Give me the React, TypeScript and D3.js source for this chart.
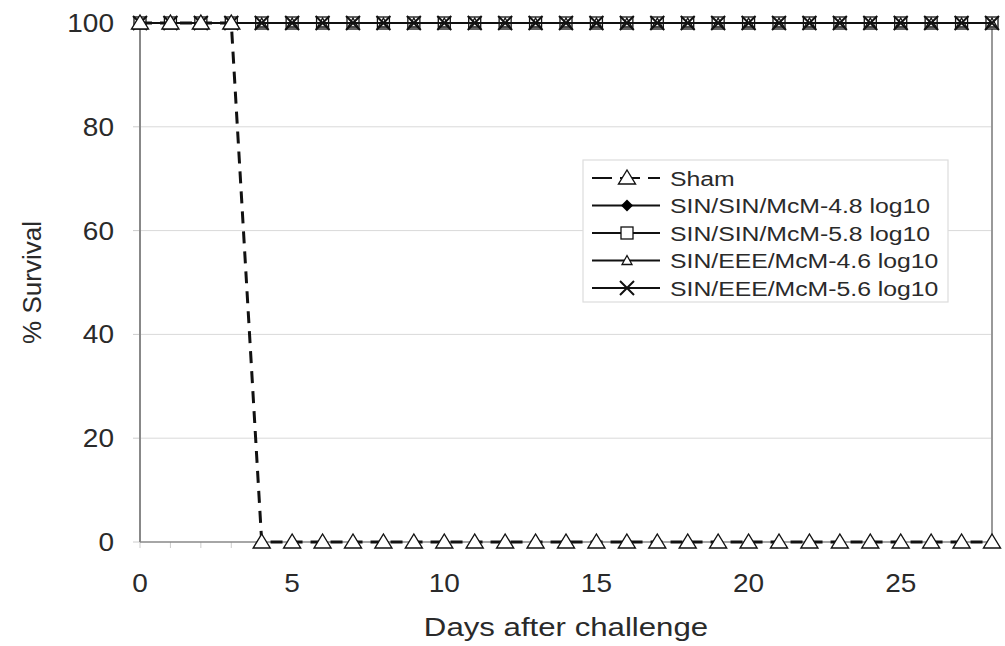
import { useEffect, useRef } from 'react'
import * as d3 from 'd3'

const days = [0, 1, 2, 3, 4, 5, 6, 7, 8, 9, 10, 11, 12, 13, 14, 15, 16, 17, 18, 19, 20, 21, 22, 23, 24, 25, 26, 27, 28]
const sham = [100, 100, 100, 100, 0, 0, 0, 0, 0, 0, 0, 0, 0, 0, 0, 0, 0, 0, 0, 0, 0, 0, 0, 0, 0, 0, 0, 0, 0]
const sinSin48 = [100, 100, 100, 100, 100, 100, 100, 100, 100, 100, 100, 100, 100, 100, 100, 100, 100, 100, 100, 100, 100, 100, 100, 100, 100, 100, 100, 100, 100]
const sinSin58 = [100, 100, 100, 100, 100, 100, 100, 100, 100, 100, 100, 100, 100, 100, 100, 100, 100, 100, 100, 100, 100, 100, 100, 100, 100, 100, 100, 100, 100]
const sinEee46 = [100, 100, 100, 100, 100, 100, 100, 100, 100, 100, 100, 100, 100, 100, 100, 100, 100, 100, 100, 100, 100, 100, 100, 100, 100, 100, 100, 100, 100]
const sinEee56 = [100, 100, 100, 100, 100, 100, 100, 100, 100, 100, 100, 100, 100, 100, 100, 100, 100, 100, 100, 100, 100, 100, 100, 100, 100, 100, 100, 100, 100]
const xTicks = [0, 5, 10, 15, 20, 25]
const yTicks = [0, 20, 40, 60, 80, 100]

type Marker = 'triangle' | 'diamond' | 'square' | 'smallTriangle' | 'cross'

const series: { name: string; values: number[]; marker: Marker; dashed: boolean }[] = [
  { name: 'SIN/SIN/McM-4.8 log10', values: sinSin48, marker: 'diamond', dashed: false },
  { name: 'SIN/SIN/McM-5.8 log10', values: sinSin58, marker: 'square', dashed: false },
  { name: 'SIN/EEE/McM-4.6 log10', values: sinEee46, marker: 'smallTriangle', dashed: false },
  { name: 'SIN/EEE/McM-5.6 log10', values: sinEee56, marker: 'cross', dashed: false },
  { name: 'Sham', values: sham, marker: 'triangle', dashed: true },
]
const legendOrder = ['Sham', 'SIN/SIN/McM-4.8 log10', 'SIN/SIN/McM-5.8 log10', 'SIN/EEE/McM-4.6 log10', 'SIN/EEE/McM-5.6 log10']

function drawMarker(g: d3.Selection<SVGGElement, unknown, null, undefined>, kind: Marker, x: number, y: number) {
  if (kind === 'triangle') {
    g.append('path')
      .attr('d', `M${x},${y - 8}L${x + 8.5},${y + 6}L${x - 8.5},${y + 6}Z`)
      .attr('fill', '#fff').attr('stroke', '#111').attr('stroke-width', 1.4)
  } else if (kind === 'smallTriangle') {
    g.append('path')
      .attr('d', `M${x},${y - 5}L${x + 5},${y + 4}L${x - 5},${y + 4}Z`)
      .attr('fill', '#fff').attr('stroke', '#111').attr('stroke-width', 1.3)
  } else if (kind === 'diamond') {
    g.append('path')
      .attr('d', `M${x},${y - 6}L${x + 6},${y}L${x},${y + 6}L${x - 6},${y}Z`)
      .attr('fill', '#000')
  } else if (kind === 'square') {
    g.append('rect')
      .attr('x', x - 6).attr('y', y - 6).attr('width', 12).attr('height', 12)
      .attr('fill', '#fff').attr('stroke', '#111').attr('stroke-width', 1.3)
  } else {
    g.append('path')
      .attr('d', `M${x - 7},${y - 7}L${x + 7},${y + 7}M${x + 7},${y - 7}L${x - 7},${y + 7}`)
      .attr('stroke', '#111').attr('stroke-width', 2)
  }
}

export default function App() {
  const svgRef = useRef<SVGSVGElement>(null)

  useEffect(() => {
    if (!svgRef.current) return
    const svg = d3.select(svgRef.current)
    svg.selectAll('*').remove()

    const font = '"Liberation Sans", Arial, sans-serif'
    const x = d3.scaleLinear().domain([0, 28]).range([140, 992])
    const y = d3.scaleLinear().domain([0, 100]).range([542, 23])

    // text stretched a little wider, as in the source image
    const label = (
      parent: d3.Selection<SVGGElement, unknown, null, undefined>,
      tx: number, ty: number, txt: string, size: number, anchor: string, sx: number
    ) =>
      parent.append('text')
        .attr('transform', `translate(${tx},${ty}) scale(${sx},1)`)
        .attr('text-anchor', anchor)
        .attr('font-family', font).attr('font-size', size).attr('fill', '#2a2a2a')
        .text(txt)

    const g = svg.append('g')

    // gridlines
    g.selectAll('.grid')
      .data(yTicks.filter(t => t > 0 && t < 100))
      .enter()
      .append('line')
      .attr('x1', x(0)).attr('x2', x(28))
      .attr('y1', d => y(d)).attr('y2', d => y(d))
      .attr('stroke', '#d9d9d9').attr('stroke-width', 1)

    // y tick marks + labels
    yTicks.forEach(t => {
      g.append('line')
        .attr('x1', x(0) - 7).attr('x2', x(0))
        .attr('y1', y(t)).attr('y2', y(t))
        .attr('stroke', '#ccc')
      label(g, 114, y(t) + 9, String(t), 25, 'end', 1.12)
    })

    // x minor ticks
    days.forEach(d => {
      g.append('line')
        .attr('x1', x(d)).attr('x2', x(d))
        .attr('y1', y(0)).attr('y2', y(0) + 6)
        .attr('stroke', '#ccc')
    })
    xTicks.forEach(t => label(g, x(t), 592, String(t), 25, 'middle', 1.12))

    // axes frame
    g.append('line').attr('x1', x(0)).attr('x2', x(0)).attr('y1', y(100)).attr('y2', y(0))
      .attr('stroke', '#888').attr('stroke-width', 2)
    g.append('line').attr('x1', x(28)).attr('x2', x(28)).attr('y1', y(100)).attr('y2', y(0))
      .attr('stroke', '#999').attr('stroke-width', 2)
    g.append('line').attr('x1', x(0)).attr('x2', x(28)).attr('y1', y(0)).attr('y2', y(0))
      .attr('stroke', '#888').attr('stroke-width', 1.5)

    // axis titles
    label(g, 566, 636, 'Days after challenge', 26, 'middle', 1.2)
    g.append('text')
      .attr('transform', `translate(41,${(y(0) + y(100)) / 2}) rotate(-90)`)
      .attr('text-anchor', 'middle')
      .attr('font-family', font).attr('font-size', 26).attr('fill', '#2a2a2a')
      .text('% Survival')

    // series
    const line = d3.line<number>().x((_, i) => x(days[i])).y(v => y(v))
    series.forEach(s => {
      g.append('path')
        .attr('d', line(s.values))
        .attr('fill', 'none')
        .attr('stroke', '#111')
        .attr('stroke-width', s.dashed ? 3 : 2)
        .attr('stroke-dasharray', s.dashed ? '12,8' : null)
      const mg = g.append('g')
      s.values.forEach((v, i) => drawMarker(mg, s.marker, x(days[i]), y(v)))
    })

    // legend
    const lg = svg.append('g').attr('transform', 'translate(583,160)')
    lg.append('rect')
      .attr('x', 0).attr('y', 0).attr('width', 365).attr('height', 142)
      .attr('fill', '#fff').attr('stroke', '#ddd').attr('stroke-width', 1.2)
    legendOrder.forEach((name, i) => {
      const s = series.find(d => d.name === name)!
      const ly = 18 + i * 27.5
      lg.append('line')
        .attr('x1', 9).attr('x2', 77).attr('y1', ly).attr('y2', ly)
        .attr('stroke', '#111').attr('stroke-width', 2)
        .attr('stroke-dasharray', s.dashed ? '20,8' : null)
      drawMarker(lg, s.marker, 44, ly)
      label(lg, 87, ly + 7.5, name, 21, 'start', 1.18)
    })
  }, [])

  return (
    <svg ref={svgRef} width={1005} height={646} style={{ position: 'absolute', left: 0, top: 0, background: '#fff' }} />
  )
}
